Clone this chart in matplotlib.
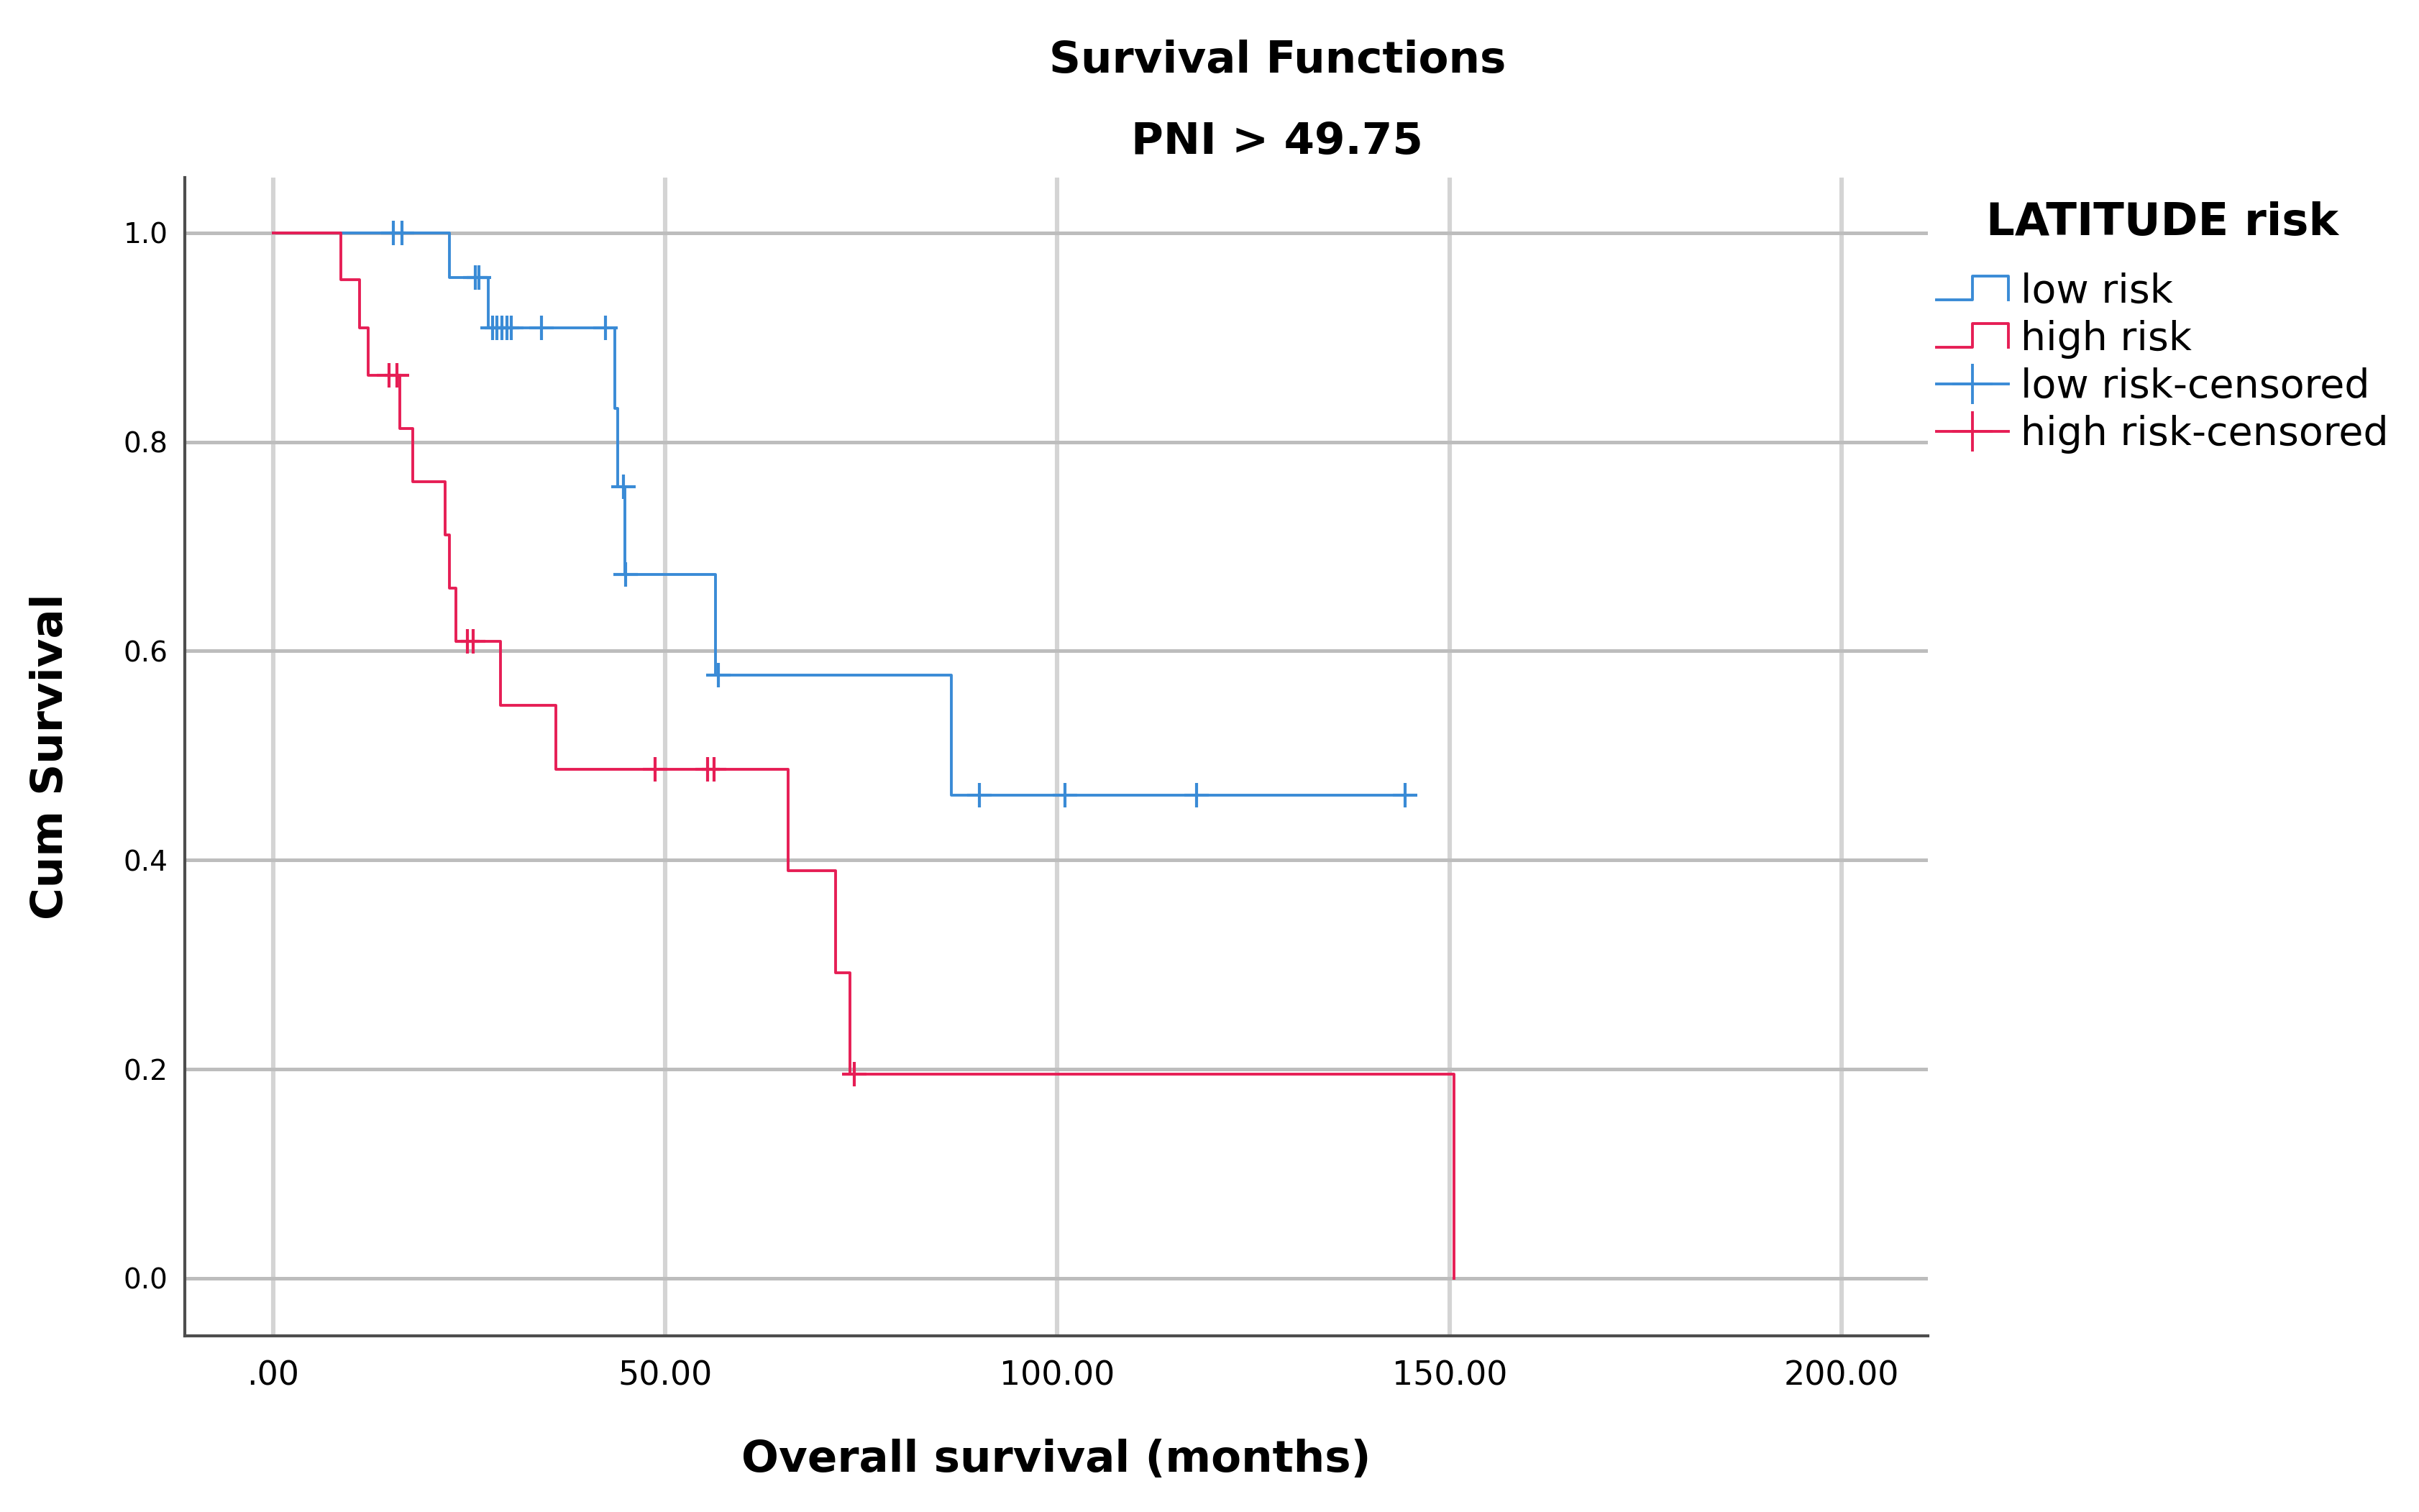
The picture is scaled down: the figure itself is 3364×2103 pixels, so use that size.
import matplotlib
matplotlib.use('Agg')
import matplotlib.pyplot as plt
from matplotlib.lines import Line2D
from matplotlib.legend_handler import HandlerBase

# Kaplan-Meier curves (step times in months, survival)
low_t = [0, 22.5, 27.5, 43.6, 44.0, 44.9, 56.4, 86.5, 144.3]
low_s = [1.0, 0.957, 0.909, 0.832, 0.757, 0.673, 0.577, 0.462, 0.462]

high_t = [0, 8.7, 11.0, 12.1, 16.2, 17.8, 22.0, 22.5, 23.3, 29.0, 36.1, 65.7, 71.7, 73.6, 150.6]
high_s = [1.0, 0.955, 0.909, 0.864, 0.813, 0.762, 0.711, 0.660, 0.609, 0.548, 0.487, 0.390, 0.292, 0.195, 0.0]

# censored observations
low_cens_t = [15.4, 16.5, 25.8, 26.3, 28.0, 28.6, 29.2, 29.8, 30.4, 34.2, 42.4, 44.7, 45.0, 56.8,
              90.1, 101.0, 117.8, 144.3]
low_cens_s = [1.0, 1.0, 0.957, 0.957, 0.909, 0.909, 0.909, 0.909, 0.909, 0.909, 0.909, 0.757, 0.673, 0.577,
              0.462, 0.462, 0.462, 0.462]

high_cens_t = [14.8, 15.8, 24.8, 25.5, 48.7, 55.4, 56.2, 74.1]
high_cens_s = [0.864, 0.864, 0.609, 0.609, 0.487, 0.487, 0.487, 0.195]

x_ticks = [0, 50, 100, 150, 200]
x_labels = ['.00', '50.00', '100.00', '150.00', '200.00']
y_ticks = [0.0, 0.2, 0.4, 0.6, 0.8, 1.0]
y_labels = ['0.0', '0.2', '0.4', '0.6', '0.8', '1.0']

groups = ['low risk', 'high risk']
colors = {'low risk': '#3a8bd6', 'high risk': '#e61e55'}

plt.rcParams['font.family'] = ['DejaVu Sans']

fig = plt.figure(figsize=(16.82, 10.515), dpi=200)
ax = fig.add_axes([0.0765, 0.1166, 0.7205, 0.766])

ax.step(low_t, low_s, where='post', color=colors['low risk'], lw=1.4, zorder=3)
ax.step(high_t, high_s, where='post', color=colors['high risk'], lw=1.4, zorder=3)
ax.plot(low_cens_t, low_cens_s, ls='none', marker='+', ms=12, mew=1.5,
        color=colors['low risk'], zorder=4)
ax.plot(high_cens_t, high_cens_s, ls='none', marker='+', ms=12, mew=1.5,
        color=colors['high risk'], zorder=4)

ax.set_xlim(-11.2, 211)
ax.set_ylim(-0.055, 1.053)
ax.set_xticks(x_ticks)
ax.set_xticklabels(x_labels, fontsize=16.5)
ax.set_yticks(y_ticks)
ax.set_yticklabels(y_labels, fontsize=14)
ax.tick_params(axis='both', length=0)
ax.tick_params(axis='x', pad=12)
ax.tick_params(axis='y', pad=8.5)

ax.xaxis.grid(True, color='#d4d4d4', lw=2.2, zorder=0)
ax.yaxis.grid(True, color='#bdbdbd', lw=1.8, zorder=0)
ax.set_axisbelow(True)

for side in ['top', 'right']:
    ax.spines[side].set_visible(False)
for side in ['left', 'bottom']:
    ax.spines[side].set_color('#4d4d4d')
    ax.spines[side].set_linewidth(1.5)

ax.set_xlabel('Overall survival (months)', fontsize=22, fontweight='bold')
ax.xaxis.set_label_coords(0.5, -0.089)
ax.set_ylabel('Cum Survival', fontsize=22, fontweight='bold')
ax.yaxis.set_label_coords(-0.065, 0.5)

fig.text(0.528, 0.960, 'Survival Functions', fontsize=22, fontweight='bold',
         ha='center', va='center')
fig.text(0.528, 0.906, 'PNI > 49.75', fontsize=22, fontweight='bold',
         ha='center', va='center')


# step shaped legend icon like SPSS
class StepHandler(HandlerBase):
    def create_artists(self, legend, orig_handle, xdescent, ydescent,
                       width, height, fontsize, trans):
        fx = [0, 0.5, 0.5, 1, 1]
        fy = [0.1, 0.1, 0.95, 0.95, 0.1]
        xs = [-xdescent + width * f for f in fx]
        ys = [-ydescent + height * f for f in fy]
        line = Line2D(xs, ys, color=orig_handle.get_color(),
                      lw=orig_handle.get_linewidth())
        line.set_transform(trans)
        return [line]


h_low = Line2D([], [], color=colors['low risk'], lw=1.4)
h_high = Line2D([], [], color=colors['high risk'], lw=1.4)
h_low_c = Line2D([], [], color=colors['low risk'], lw=1.4, marker='+', ms=20, mew=1.4)
h_high_c = Line2D([], [], color=colors['high risk'], lw=1.4, marker='+', ms=20, mew=1.4)

leg = ax.legend([h_low, h_high, h_low_c, h_high_c],
                ['low risk', 'high risk', 'low risk-censored', 'high risk-censored'],
                handler_map={h_low: StepHandler(), h_high: StepHandler()},
                loc='upper left', bbox_to_anchor=(0.8005, 0.867),
                bbox_transform=fig.transFigure, frameon=False,
                fontsize=20, title='LATITUDE risk',
                title_fontproperties={'size': 22.5, 'weight': 'bold'},
                borderpad=0, borderaxespad=0, handlelength=1.8,
                handletextpad=0.3, labelspacing=0.22, numpoints=1)
leg._legend_box.sep = 14

fig.savefig('out.png', dpi=200)
